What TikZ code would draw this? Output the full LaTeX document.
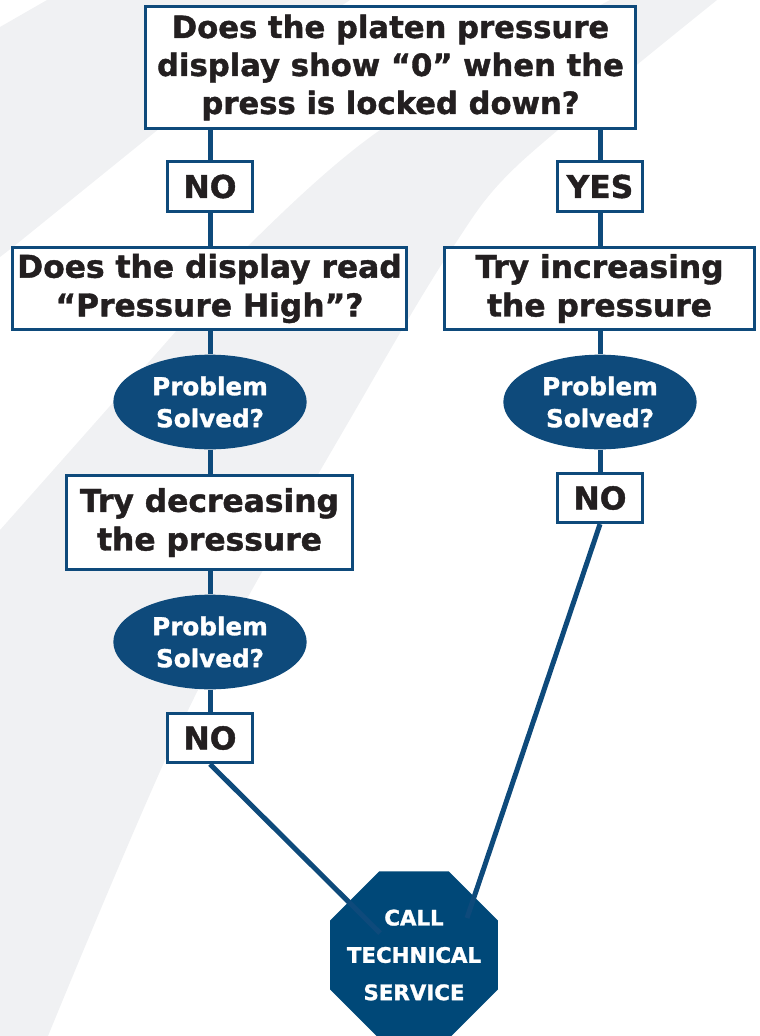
\documentclass[tikz,border=0pt]{standalone}
\usepackage{fontspec}
\setmainfont{DejaVu Sans}[BoldFeatures={FakeBold=1.3}]
\usetikzlibrary{shapes.geometric}

\definecolor{flowblue}{HTML}{0E4A7B}
\definecolor{stopblue}{HTML}{004878}
\definecolor{swoosh}{HTML}{F0F1F3}
\definecolor{ink}{HTML}{231F20}

\tikzset{
  question/.style={draw=flowblue, line width=2.2pt, fill=white, text=ink,
    align=center, inner sep=0pt, font=\bfseries\fontsize{23.5}{29}\selectfont},
  answer/.style={draw=flowblue, line width=2.2pt, fill=white, text=ink,
    inner sep=0pt, minimum width=64pt, minimum height=37pt,
    font=\bfseries\fontsize{23.5}{28}\selectfont},
  solved/.style={ellipse, fill=flowblue, text=white, align=center, inner sep=0pt,
    minimum width=145pt, minimum height=71pt,
    font=\bfseries\fontsize{18.5}{24}\selectfont},
  callbox/.style={regular polygon, regular polygon sides=8, fill=stopblue,
    inner sep=0pt, minimum size=136pt},
  calltext/.style={text=white, align=center, inner sep=0pt,
    font=\bfseries\fontsize{16}{28}\selectfont},
  link/.style={draw=flowblue, line width=3.75pt}
}

\begin{document}
\begin{tikzpicture}[x=0.75pt, y=-0.75pt]
  \useasboundingbox (0,0) rectangle (760,1036);
  \clip (0,0) rectangle (760,1036);
  % background swooshes
  \fill[swoosh] (0,27) -- (47,0) -- (350,0) -- (160,128) -- (13,247) -- (0,257) -- cycle;
  \fill[swoosh] plot[smooth] coordinates {(717,0) (520,163) (453,247) (367,390) (193,700) (48,1036)}
    -- (0,1036) -- plot[smooth] coordinates {(0,530) (177,330) (247,247) (383,128) (610,0)} -- cycle;

  \node[question, minimum width=368pt, minimum height=91pt,
    font=\bfseries\fontsize{23}{28.5}\selectfont] (platen) at (390.5,67.5)
    {Does the platen pressure\\display show “0” when the\\press is locked down?};
  \node[answer] (no1) at (210,186.5) {NO};
  \node[answer] (yes1) at (600,186.5) {YES};

  \node[question, minimum width=296pt, minimum height=62pt] (readhigh) at (209.5,288.5)
    {Does the display read\\“Pressure High”?};
  \node[question, minimum width=233pt, minimum height=62pt] (increase) at (599.5,288.5)
    {Try increasing\\the pressure};

  \node[solved] (solved1) at (210,402) {Problem\\Solved?};
  \node[question, minimum width=215pt, minimum height=71pt] (decrease) at (209.5,522.5)
    {Try decreasing\\the pressure};
  \node[solved] (solved2) at (210,642) {Problem\\Solved?};
  \node[answer] (no2) at (210,738) {NO};

  \node[solved] (solved3) at (600,402) {Problem\\Solved?};
  \node[answer] (no3) at (600,498) {NO};

  \node[callbox] (service) at (414,955) {};
  \node[calltext] (servicetext) at (service.center) {CALL\\TECHNICAL\\SERVICE};
  \coordinate (inL) at (380,933);
  \coordinate (inR) at (467,918);

  % left branch
  \draw[link] (platen.south -| no1) -- (no1.north);
  \draw[link] (no1.south) -- (readhigh.north -| no1);
  \draw[link] (readhigh.south -| solved1) -- (solved1.north);
  \draw[link] (solved1.south) -- (decrease.north -| solved1);
  \draw[link] (decrease.south -| solved2) -- (solved2.north);
  \draw[link] (solved2.south) -- (no2.north);
  \draw[link] (no2.south) -- (inL);
  % right branch
  \draw[link] (platen.south -| yes1) -- (yes1.north);
  \draw[link] (yes1.south) -- (increase.north -| yes1);
  \draw[link] (increase.south -| solved3) -- (solved3.north);
  \draw[link] (solved3.south) -- (no3.north);
  \draw[link] (no3.south) -- (inR);
\end{tikzpicture}
\end{document}
